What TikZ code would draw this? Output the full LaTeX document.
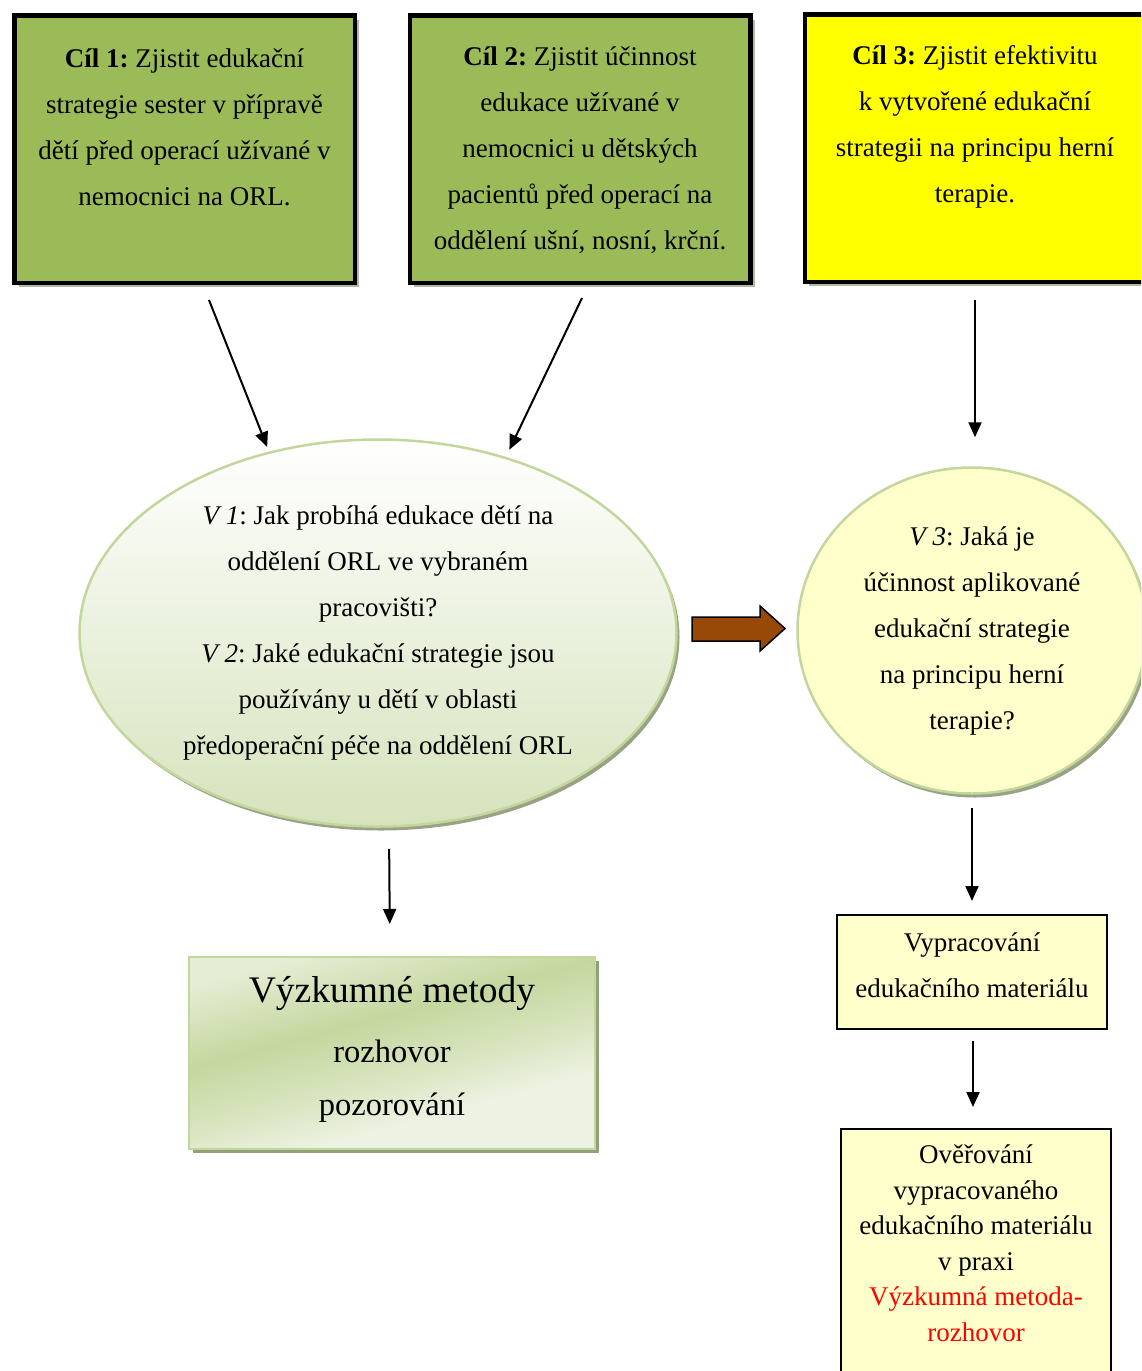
\documentclass[tikz,border=0pt]{standalone}
\usepackage{fontspec}
\setmainfont{Liberation Serif}
\usetikzlibrary{arrows.meta,shapes.geometric,shadows}

\definecolor{goalgreen}{HTML}{9BBB59}
\definecolor{goalyellow}{HTML}{FFFF00}
\definecolor{paleyellow}{HTML}{FFFFCC}
\definecolor{ellborder}{HTML}{C3D69B}
\definecolor{ellbottom}{HTML}{D6E3BC}
\definecolor{brownarrow}{HTML}{984807}
\definecolor{mlight}{HTML}{EDF2E2}
\definecolor{mcorner}{HTML}{E6EDD5}
\definecolor{mmid}{HTML}{D9E5C0}
\definecolor{mdark}{HTML}{C5D79F}
\definecolor{boxshadow}{HTML}{B4B4A8}

% soft green streaked fill of the methods box (top-left at 75bp, bottom-right at 25bp)
\pgfdeclareverticalshading{methshade}{100bp}{%
  color(0bp)=(mlight); color(25bp)=(mlight); color(35bp)=(mlight);
  color(45bp)=(mmid); color(58bp)=(mdark); color(75bp)=(mcorner); color(100bp)=(mcorner)}

\frenchspacing
\begin{document}
\begin{tikzpicture}[x=1pt,y=-1pt,
  goalbox/.style={draw=black, line width=4.5pt, minimum width=340.5pt,
    minimum height=267.5pt, inner sep=0pt,
    drop shadow={shadow xshift=4.5pt, shadow yshift=-4.5pt, fill=boxshadow, opacity=1}},
  txt/.style={align=center, inner sep=0pt, font=\fontsize{27}{46}\selectfont},
  question/.style={ellipse, draw=ellborder, line width=2.5pt, inner sep=0pt, txt,
    drop shadow={shadow xshift=3pt, shadow yshift=-4pt, fill=black!35!ellborder, opacity=.8}},
  stepbox/.style={draw=black, line width=2pt, fill=paleyellow, inner sep=0pt},
  arr/.style={line width=2pt, -{Triangle[length=15pt,width=13pt]}},
  line/.style={anchor=base, inner sep=0pt}
]
\useasboundingbox (0,0) rectangle (1141,1371);
\clip (0,0) rectangle (1141,1371);

% goals
\node[goalbox, fill=goalgreen] (c1) at (184.5,149) {};
\node[goalbox, fill=goalgreen] (c2) at (580,149) {};
\node[goalbox, fill=goalyellow] (c3) at (975,148) {};
\node[txt] (c1t) at (184.5,127) {\textbf{Cíl 1:} Zjistit edukační\\ strategie sester v přípravě\\ dětí před operací užívané v\\ nemocnici na ORL.};
\node[txt] (c2t) at (580,150) {\textbf{Cíl 2:} Zjistit účinnost\\ edukace užívané v\\ nemocnici u dětských\\ pacientů před operací na\\ oddělení ušní, nosní, krční.};
\node[txt] (c3t) at (975,127) {\textbf{Cíl 3:} Zjistit efektivitu\\ k vytvořené edukační\\ strategii na principu herní\\ terapie.};

% research questions
\node[question, top color=white, bottom color=ellbottom,
  minimum width=597pt, minimum height=387pt] (v12) at (378,633)
  {\textit{V 1}: Jak probíhá edukace dětí na\\ oddělení ORL ve vybraném\\ pracovišti?\\
   \textit{V 2}: Jaké edukační strategie jsou\\ používány u dětí v oblasti\\ předoperační péče na oddělení ORL};
\node[question, fill=paleyellow, minimum width=349pt, minimum height=326pt] (v3) at (972,630.5)
  {\textit{V 3}: Jaká je\\ účinnost aplikované\\ edukační strategie\\ na principu herní\\ terapie?};

% methods
\node[draw=ellborder, line width=2pt, shading=methshade, shading angle=15,
  minimum width=406pt, minimum height=192pt, inner sep=0pt,
  drop shadow={shadow xshift=4pt, shadow yshift=-4pt, fill=black!30!ellborder, opacity=.9}]
  (meth) at (392,1053) {};
\node[line, font=\fontsize{37.5}{40}\selectfont] (m1) at (392,1002) {Výzkumné metody};
\node[line, font=\fontsize{32.5}{36}\selectfont] (m2) at (392,1062) {rozhovor};
\node[line, font=\fontsize{32.5}{36}\selectfont] (m3) at (392,1115) {pozorování};

% material steps
\node[stepbox, minimum width=270pt, minimum height=114pt] (mat) at (972,972) {};
\node[txt] (matt) at (972,965) {Vypracování\\ edukačního materiálu};
\node[stepbox, minimum width=270pt, minimum height=300pt, anchor=north] (ver) at (976,1128) {};
\node[align=center, inner sep=0pt, font=\fontsize{27}{35.5}\selectfont] (vert) at (976,1243)
  {Ověřování\\ vypracovaného\\ edukačního materiálu\\ v praxi\\
   \textcolor{red}{Výzkumná metoda-}\\ \textcolor{red}{rozhovor}};

% connectors
\coordinate (a1s) at (209,300);
\coordinate (a2s) at (582,298);
\coordinate (a3s) at (975,300);
\draw[arr, shorten >=5pt] (a1s) -- (v12.121);
\draw[arr, shorten >=8pt] (a2s) -- (v12.54);
\draw[arr, shorten >=29pt] (a3s) -- (a3s |- v3.north);
\draw[arr, shorten <=21pt, shorten >=32pt] ([xshift=11pt]v12.south) -- ([xshift=-2pt]meth.north);
\draw[arr, shorten <=13pt, shorten >=13pt] (v3.south) -- (mat.north);
\draw[arr, shorten <=11pt, shorten >=21pt] ([xshift=1pt]mat.south) -- ([xshift=-3pt]ver.north);

% block arrow between the question groups
\draw[fill=brownarrow, line width=1.5pt, line join=miter]
  (692,617) -- (760,617) -- (760,606) -- (785,628.5) -- (760,651) -- (760,641) -- (692,641) -- cycle;
\end{tikzpicture}
\end{document}
